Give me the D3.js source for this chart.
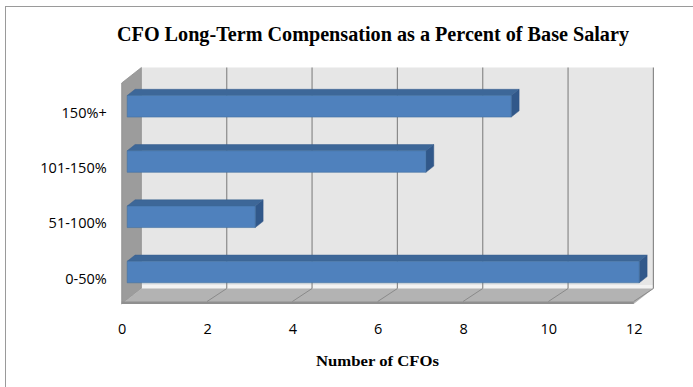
<!DOCTYPE html>
<html>
<head>
<meta charset="utf-8">
<script src="https://cdn.jsdelivr.net/npm/d3@7"></script>
<style>
  html, body { margin: 0; padding: 0; background: #fff; }
  svg { display: block; }
</style>
</head>
<body>
<svg id="chart" width="693" height="387"></svg>
<script>
// Category labels (top to bottom) and the number of CFOs in each
const categories = ["150%+", "101-150%", "51-100%", "0-50%"];
const counts = [9, 7, 3, 12];
const xTicks = [0, 2, 4, 6, 8, 10, 12];

const titleText = "CFO Long-Term Compensation as a Percent of Base Salary";
const xTitleText = "Number of CFOs";

const svg = d3.select("#chart");

// Oblique 3D projection: front plane origin plus a depth vector
const X0 = 121.7;              // value 0 on the front plane
const DX = 19.7, DY = -15.5;   // full depth of the plot box
const x = d3.scaleLinear().domain([0, 12]).range([0, 512]);
const y = d3.scaleBand().domain(categories).range([83, 304])
  .paddingInner(0.61).paddingOuter(0.305);
const yTop = 83, yBot = 304;
const P = (v, yy, d) => [X0 + x(v) + d * DX, yy + d * DY];
const poly = pts => "M" + pts.map(p => p.join(",")).join("L") + "Z";

// Outer frame
svg.append("rect").attr("x", 5.5).attr("y", 6.5).attr("width", 720).attr("height", 420)
  .attr("fill", "#fff").attr("stroke", "#9a9a9a").attr("stroke-width", 1);

// Back wall
svg.append("path")
  .attr("d", poly([P(0, yTop, 1), P(12, yTop, 1), P(12, yBot, 1), P(0, yBot, 1)]))
  .attr("fill", "#e6e6e6");
// light base strip of the back wall
svg.append("path")
  .attr("d", poly([P(0, yBot - 3.5, 1), P(12, yBot - 3.5, 1), P(12, yBot, 1), P(0, yBot, 1)]))
  .attr("fill", "#f3f3f3");

// Left wall
svg.append("path")
  .attr("d", poly([P(0, yTop, 0), P(0, yTop, 1), P(0, yBot, 1), P(0, yBot, 0)]))
  .attr("fill", "#9c9c9c").attr("stroke", "#8e8e8e").attr("stroke-width", 0.8);

// Floor
svg.append("path")
  .attr("d", poly([P(0, yBot, 0), P(12, yBot, 0), P(12, yBot, 1), P(0, yBot, 1)]))
  .attr("fill", "#b3b3b3");
// floor front edge thickness
svg.append("path")
  .attr("d", poly([P(0, yBot - 2.5, 0), P(12, yBot - 2.5, 0), P(12, yBot, 0), P(0, yBot, 0)]))
  .attr("fill", "#8f8f8f");

// Gridlines on the back wall and across the floor
const grid = xTicks.filter(v => v > 0);
svg.append("g").selectAll("line.wall").data(grid).join("line")
  .attr("x1", v => P(v, yTop, 1)[0]).attr("x2", v => P(v, yTop, 1)[0])
  .attr("y1", P(0, yTop, 1)[1]).attr("y2", P(0, yBot, 1)[1])
  .attr("stroke", "#8a8a8a").attr("stroke-width", 1.2);
svg.append("g").selectAll("line.floor").data(grid).join("line")
  .attr("x1", v => P(v, yBot - 2.5, 0)[0]).attr("y1", P(0, yBot - 2.5, 0)[1])
  .attr("x2", v => P(v, yBot, 1)[0]).attr("y2", P(0, yBot, 1)[1])
  .attr("stroke", "#8a8a8a").attr("stroke-width", 1);

// Bars
const d1 = 0.28, d2 = 0.68;
const bars = svg.append("g").selectAll("g").data(categories.map((c, i) => ({ c, v: counts[i] })))
  .join("g");
bars.each(function (d) {
  const g = d3.select(this);
  const t = y(d.c), b = y(d.c) + y.bandwidth();
  // right side face
  g.append("path")
    .attr("d", poly([P(d.v, t, d1), P(d.v, t, d2), P(d.v, b, d2), P(d.v, b, d1)]))
    .attr("fill", "#31588a").attr("stroke", "#2c5080").attr("stroke-width", 0.5);
  // top face
  g.append("path")
    .attr("d", poly([P(0, t, d1), P(d.v, t, d1), P(d.v, t, d2), P(0, t, d2)]))
    .attr("fill", "#3d6798").attr("stroke", "#385f8e").attr("stroke-width", 0.5);
  // front face
  g.append("path")
    .attr("d", poly([P(0, t, d1), P(d.v, t, d1), P(d.v, b, d1), P(0, b, d1)]))
    .attr("fill", "#4f81bd").attr("stroke", "#41709f").attr("stroke-width", 0.6);
});

// Value axis labels along the front edge of the floor
const xAxis = svg.append("g")
  .attr("transform", `translate(${X0},322)`)
  .call(d3.axisBottom(x).tickValues(xTicks).tickSize(0).tickPadding(0).tickFormat(d3.format("d")));
xAxis.select(".domain").remove();
xAxis.selectAll("text")
  .attr("font-family", "'Open Sans', sans-serif").attr("font-size", 14.5).attr("fill", "#000")
  .attr("dy", "0.32em").attr("y", 7);

// Category axis labels
const yAxis = svg.append("g")
  .attr("transform", `translate(${X0},0)`)
  .call(d3.axisLeft(y).tickSize(0).tickPadding(15));
yAxis.select(".domain").remove();
yAxis.selectAll("text")
  .attr("font-family", "'Open Sans', sans-serif").attr("font-size", 14.5).attr("fill", "#000")
  .attr("y", 2.5);

// Titles
svg.append("text")
  .attr("x", 117).attr("y", 41)
  .attr("font-family", "'Liberation Serif', serif").attr("font-weight", "bold")
  .attr("font-size", 20).attr("fill", "#000")
  .attr("textLength", 512).attr("lengthAdjust", "spacingAndGlyphs")
  .text(titleText);
svg.append("text")
  .attr("x", 316).attr("y", 366)
  .attr("font-family", "'Liberation Serif', serif").attr("font-weight", "bold")
  .attr("font-size", 15).attr("fill", "#000")
  .attr("textLength", 123).attr("lengthAdjust", "spacingAndGlyphs")
  .text(xTitleText);
</script>
</body>
</html>
